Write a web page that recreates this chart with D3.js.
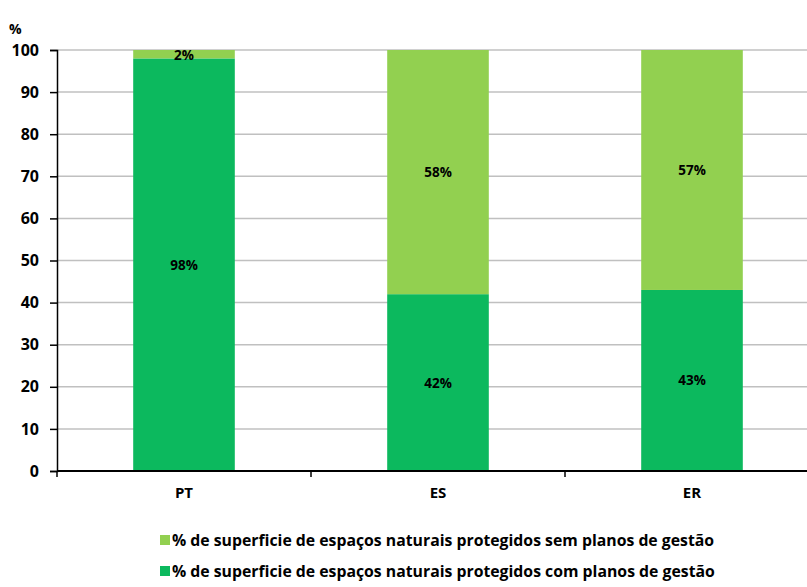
<!DOCTYPE html>
<html>
<head>
  <meta charset="utf-8">
  <title>Espaços naturais protegidos</title>
  <script src="https://d3js.org/d3.v7.min.js"></script>
  <style>
    body { margin: 0; background: #fff; }
    text { font-family: "Open Sans", sans-serif; font-weight: bold; fill: #000; }
  </style>
</head>
<body>
  <svg id="chart"></svg>

  <script>
    const categories = ["PT", "ES", "ER"];
    const comPlanos = [98, 42, 43];   // com planos de gestão
    const semPlanos = [2, 58, 57];    // sem planos de gestão
    const yTicks = [0, 10, 20, 30, 40, 50, 60, 70, 80, 90, 100];
    const legendLabels = [
      "% de superficie de espaços naturais protegidos sem planos de gestão",
      "% de superficie de espaços naturais protegidos com planos de gestão"
    ];
    const colors = { com: "#0cb95e", sem: "#92d050" };

    const width = 807, height = 587;
    const mLeft = 57, mTop = 50, mBottom = 471;

    const svg = d3.select("#chart").attr("width", width).attr("height", height);

    const x = d3.scaleBand().domain(categories).range([mLeft, mLeft + 3 * 254])
      .paddingInner(0.6).paddingOuter(0.3);
    const y = d3.scaleLinear().domain([0, 100]).range([mBottom, mTop]);

    // linhas de grelha
    svg.append("g").selectAll("line").data(yTicks.slice(1)).join("line")
      .attr("x1", mLeft).attr("x2", width)
      .attr("y1", d => y(d)).attr("y2", d => y(d))
      .attr("stroke", "#c0c0c0").attr("stroke-width", 1.5);

    // barras empilhadas
    const rows = categories.map((c, i) => ({ cat: c, com: comPlanos[i], sem: semPlanos[i] }));
    const stack = d3.stack().keys(["com", "sem"])(rows);

    svg.append("g").selectAll("g").data(stack).join("g")
      .attr("fill", s => colors[s.key])
      .selectAll("rect").data(s => s).join("rect")
      .attr("x", d => x(d.data.cat))
      .attr("width", x.bandwidth())
      .attr("y", d => y(d[1]))
      .attr("height", d => y(d[0]) - y(d[1]));

    // rótulos
    stack.forEach(s => {
      svg.append("g").selectAll("text").data(s).join("text")
        .attr("x", d => x(d.data.cat) + x.bandwidth() / 2)
        .attr("y", d => s.key === "sem" && d.data.sem < 5 ? y(d[1]) + 10 : y((d[0] + d[1]) / 2) + 5)
        .attr("text-anchor", "middle")
        .attr("font-size", 13.5)
        .text(d => d.data[s.key] + "%");
    });

    // eixo y
    const yAxis = svg.append("g").attr("transform", `translate(${mLeft},0)`)
      .call(d3.axisLeft(y).tickValues(yTicks).tickSize(7).tickPadding(11));
    yAxis.select(".domain").attr("stroke", "#000").attr("stroke-width", 1.5);
    yAxis.selectAll(".tick line").attr("stroke", "#000").attr("stroke-width", 1.5);
    yAxis.selectAll(".tick text").attr("font-size", 16).attr("font-family", "Open Sans, sans-serif").attr("font-weight", "bold");

    // eixo x
    const xAxis = svg.append("g").attr("transform", `translate(0,${mBottom})`)
      .call(d3.axisBottom(x).tickSize(0).tickPadding(16));
    xAxis.select(".domain").attr("d", `M${mLeft},0H${width}`).attr("stroke", "#000").attr("stroke-width", 2);
    xAxis.selectAll(".tick text").attr("font-size", 15).attr("font-family", "Open Sans, sans-serif").attr("font-weight", "bold");
    xAxis.append("g").selectAll("line").data([0, 1, 2, 3]).join("line")
      .attr("x1", i => mLeft + i * 254).attr("x2", i => mLeft + i * 254)
      .attr("y1", 0).attr("y2", 6).attr("stroke", "#000").attr("stroke-width", 1.5);

    svg.append("text").attr("x", 9).attr("y", 34).attr("font-size", 14).text("%");

    // legenda
    const legend = svg.append("g").selectAll("g").data(legendLabels).join("g")
      .attr("transform", (d, i) => `translate(160,${546 + i * 31})`);
    legend.append("rect").attr("x", 0).attr("y", -11).attr("width", 10).attr("height", 10)
      .attr("fill", (d, i) => i === 0 ? colors.sem : colors.com);
    legend.append("text").attr("x", 12).attr("y", 0).attr("font-size", 15.8).text(d => d);
  </script>
</body>
</html>
